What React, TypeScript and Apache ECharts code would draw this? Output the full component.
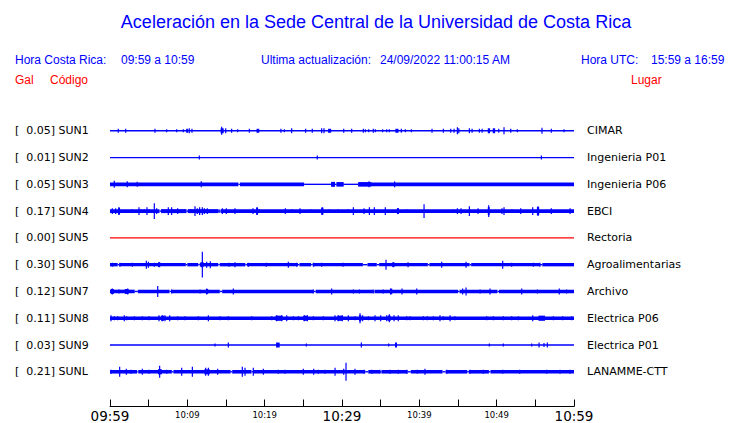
import React, { useEffect, useRef } from "react";
import * as echarts from "echarts";

// ---------- text content ----------
const titleText = "Aceleración en la Sede Central de la Universidad de Costa Rica";
const headerLabels = ["Hora Costa Rica:", "09:59 a 10:59", "Ultima actualización:", "24/09/2022 11:00:15 AM", "Hora UTC:", "15:59 a 16:59"];
const columnLabels = ["Gal", "Código", "Lugar"];

// ---------- stations ----------
const codes = ["SUN1", "SUN2", "SUN3", "SUN4", "SUN5", "SUN6", "SUN7", "SUN8", "SUN9", "SUNL"];
const galValues = ["0.05", "0.01", "0.05", "0.17", "0.00", "0.30", "0.12", "0.11", "0.03", "0.21"];
const places = ["CIMAR", "Ingenieria P01", "Ingenieria P06", "EBCI", "Rectoria", "Agroalimentarias", "Archivo", "Electrica P06", "Electrica P01", "LANAMME-CTT"];

// x axis (minutes after 09:59)
const tickLabels = ["09:59", "10:09", "10:19", "10:29", "10:39", "10:49", "10:59"];
const majorTicks = ["09:59", "10:29", "10:59"];

// background noise half-amplitude per station
const noiseLevel = [0.8, 0.6, 1.9, 2.0, 0.6, 1.7, 1.8, 1.8, 0.7, 1.8];
const quietLevel = 0.7;

// quiet stretches [startMin, endMin]
const sun1Quiet: number[][] = [];
const sun2Quiet: number[][] = [];
const sun3Quiet = [[16.6, 16.8], [25.1, 28.6], [29.1, 29.3], [30.2, 32.1]];
const sun4Quiet = [[6.4, 6.6], [9.9, 10.1], [14.0, 14.3]];
const sun5Quiet: number[][] = [];
const sun6Quiet = [[1.0, 1.2], [9.8, 10.0], [11.4, 11.6], [14.0, 14.2], [17.5, 17.7], [24.3, 24.5], [26.0, 26.2], [32.7, 33.3], [34.5, 34.8], [41.1, 41.3], [46.5, 46.7], [55.6, 55.9]];
const sun7Quiet = [[3.2, 3.6], [7.7, 7.9], [14.2, 14.5], [26.3, 26.6], [34.0, 34.2], [45.0, 45.2], [50.1, 50.3]];
const sun8Quiet: number[][] = [];
const sun9Quiet: number[][] = [];
const sunLQuiet = [[3.5, 3.65], [8.0, 8.2], [15.6, 15.8], [18.3, 18.5], [33.0, 33.4], [34.9, 35.1], [38.5, 38.9], [43.0, 43.4], [46.2, 46.4], [49.0, 49.2]];

// bursts [startMin, endMin, halfAmplitude]
const sun1Bursts = [[9.85, 10.1, 2], [14.3, 14.7, 2.5], [18.95, 19.3, 2], [28.2, 28.6, 2], [36.9, 37.3, 2], [48.85, 49.15, 2.5], [49.5, 49.8, 2.5]];
const sun2Bursts: number[][] = [];
const sun3Bursts = [[28.6, 29.1, 2.5], [29.3, 30.2, 2.2], [32.1, 33.8, 2.2]];
const sun4Bursts = [[1.05, 1.3, 3.5], [18.9, 19.15, 3.5], [27.3, 27.6, 3.5], [37.1, 37.35, 3], [48.85, 49.1, 4], [55.2, 55.5, 4]];
const sun5Bursts: number[][] = [];
const sun6Bursts = [[6.2, 6.5, 2.5], [11.7, 12.1, 2.5], [36.5, 36.8, 2.3]];
const sun7Bursts = [[0.1, 0.5, 2.5], [1.9, 2.4, 2.5], [12.4, 12.7, 2.5], [36.2, 36.5, 2.8]];
const sun8Bursts = [[6.6, 7.0, 2.6], [21.4, 22.3, 2.6], [25.0, 25.6, 2.6], [29.4, 30.1, 2.6], [32.2, 32.5, 3], [35.9, 36.3, 2.6], [55.4, 56.25, 2.6]];
const sun9Bursts = [[21.47, 21.94, 2.5], [36.85, 37.11, 2.5]];
const sunLBursts = [[6.2, 6.7, 2.6], [12.2, 12.9, 2.5]];

// spikes [minute, halfAmplitude]
const sun1Spikes = [[1.07, 2], [2.03, 2], [5.82, 2], [7.33, 1.5], [8.62, 1.5], [9.48, 1.5], [10.25, 2.5], [10.6, 2], [14.44, 4], [14.96, 2.5], [15.73, 2], [16.51, 1.5], [18.02, 2], [22.1, 2], [22.54, 1.5], [23.49, 2.5], [25.3, 2], [26.16, 2], [27.37, 2.5], [27.67, 2.5], [30.22, 2], [31.25, 2], [32.76, 2], [33.02, 1.5], [33.45, 1.5], [34.05, 2], [34.31, 1.5], [35.26, 1.5], [35.78, 1.5], [36.12, 1.5], [37.67, 2], [38.19, 1.5], [38.97, 1.5], [41.64, 2], [43.11, 2], [44.06, 2], [44.49, 2], [44.92, 3.5], [45.1, 2.5], [46.47, 2.5], [46.82, 2], [47.76, 2], [48.12, 2], [50.27, 2], [50.95, 3.5], [51.82, 2], [52.67, 1.5], [55.86, 3], [57.07, 2], [58.71, 1.5]];
const sun2Spikes = [[11.55, 2], [26.8, 2], [55.78, 2]];
const sun3Spikes = [[0.55, 3.5], [2.23, 3], [3.52, 2.5], [11.8, 3], [33.5, 3], [36.8, 3]];
const sun4Spikes = [[0.3, 3], [0.73, 3], [1.16, 4], [2.89, 2], [3.75, 4], [4.01, 2], [4.44, 2], [4.78, 4], [5.04, 2], [5.73, 8], [6.03, 3], [6.76, 2], [7.54, 4], [7.97, 4], [8.75, 3], [9.61, 2], [10.13, 2], [10.47, 2], [10.99, 5], [11.29, 3], [11.59, 4], [11.94, 4], [12.2, 3], [12.58, 3], [14.1, 2], [14.53, 3], [15.04, 3], [16.16, 3], [18.49, 3], [19.01, 4], [19.27, 2], [22.67, 3], [23.49, 2], [24.57, 3], [25.95, 2], [27.45, 4], [28.36, 2], [29.52, 2], [30.82, 2], [31.47, 4], [32.85, 3], [33.54, 4], [34.18, 4], [35.6, 4], [37.24, 3], [38.37, 2], [40.61, 7], [44.4, 2], [44.92, 3], [45.39, 3], [46.47, 5], [47.59, 3], [48.97, 6], [50.69, 3], [50.95, 4], [51.99, 2], [53.11, 3], [54.66, 4], [55.35, 5], [57.07, 3], [59.49, 3]];
const sun5Spikes: number[][] = [];
const sun6Spikes = [[0.3, 2], [1.29, 2], [2.89, 2], [4.7, 4], [4.96, 3], [5.73, 2], [11.94, 13], [12.5, 3], [12.97, 3.5], [15.39, 2], [16.16, 2.5], [17.89, 2], [20.21, 2], [23.06, 3], [24.14, 2], [26.34, 2], [27.37, 2], [30.13, 2], [35.69, 5], [36.64, 2.5], [38.54, 2.5], [42.89, 3], [46.04, 3], [50.78, 4], [51.94, 2], [54.74, 2], [55.6, 2]];
const sun7Spikes = [[0.3, 3], [1.16, 2], [2.29, 3], [6.17, 5.5], [7.97, 2], [11.64, 2], [12.5, 3], [15.95, 3], [26.29, 2], [28.66, 3], [31.47, 2], [32.24, 2], [34.05, 2], [35.34, 2], [36.29, 3], [37.76, 3], [39.66, 3], [45.6, 3], [46.04, 4], [47.85, 2], [49.14, 3], [53.24, 3], [55.26, 2], [58.1, 3], [59.05, 2]];
const sun8Spikes = [[0.13, 3], [0.56, 2], [0.99, 2], [1.85, 3], [2.16, 2], [3.15, 2], [4.18, 2], [5.04, 2], [6.34, 3], [6.76, 3], [7.11, 3], [7.72, 3], [8.75, 2], [9.7, 2], [11.42, 2], [12.72, 3], [14.22, 2], [15.3, 2], [18.32, 2], [20.91, 2], [21.55, 3], [22.2, 3], [22.85, 3], [23.71, 2], [24.35, 2], [25.13, 3], [25.52, 3], [26.29, 2], [27.58, 2], [29.1, 3], [29.52, 3], [30.04, 3], [30.82, 3], [31.68, 2], [32.33, 5], [32.67, 3], [33.41, 2], [34.27, 3], [35.0, 3], [35.78, 3], [36.12, 4], [36.73, 3], [37.28, 3], [38.37, 2], [38.79, 2], [40.52, 2], [41.03, 2], [41.81, 2], [42.67, 3], [43.1, 2], [43.97, 3], [44.61, 2], [48.71, 2], [49.57, 2], [50.86, 2], [51.94, 2], [52.8, 2], [54.66, 3], [57.33, 2], [58.54, 2], [59.7, 2]];
const sun9Spikes = [[13.58, 1.5], [15.3, 2.5], [25.39, 1.5], [32.5, 2.5], [36.03, 1.5], [49.05, 1.5], [50.86, 1.5], [54.53, 1.5], [55.48, 2.5], [56.12, 2], [56.55, 2.5]];
const sunLSpikes = [[0.13, 2], [1.25, 5], [2.11, 3], [2.72, 2], [4.18, 3], [5.04, 2], [6.42, 6], [7.33, 2], [9.27, 4], [10.65, 5], [12.37, 4], [12.72, 4], [13.92, 3], [17.11, 5], [17.46, 4], [18.53, 4], [19.83, 3], [21.77, 2], [22.63, 2], [25.0, 3], [26.34, 3], [26.94, 2], [27.8, 2], [29.1, 4], [30.22, 3], [30.52, 9], [31.68, 3], [32.85, 2], [33.84, 2], [34.91, 2], [36.21, 2], [37.28, 2], [38.37, 2], [39.74, 2], [40.73, 3], [43.54, 2], [46.55, 2], [48.27, 2], [50.78, 2], [52.98, 2], [56.47, 2], [58.19, 2], [59.48, 2]];

const quietByStation = [sun1Quiet, sun2Quiet, sun3Quiet, sun4Quiet, sun5Quiet, sun6Quiet, sun7Quiet, sun8Quiet, sun9Quiet, sunLQuiet];
const burstsByStation = [sun1Bursts, sun2Bursts, sun3Bursts, sun4Bursts, sun5Bursts, sun6Bursts, sun7Bursts, sun8Bursts, sun9Bursts, sunLBursts];
const spikesByStation = [sun1Spikes, sun2Spikes, sun3Spikes, sun4Spikes, sun5Spikes, sun6Spikes, sun7Spikes, sun8Spikes, sun9Spikes, sunLSpikes];

const BLUE = "#0000ff";
const RED = "#ff0000";
const SPACING = 27;
const T_END = 60;

function buildSegments(level: number, quiet: number[][]): number[][] {
  const out: number[][] = [];
  let cur = 0;
  const sorted = [...quiet].sort((a, b) => a[0] - b[0]);
  for (const [a, b] of sorted) {
    if (a > cur) out.push([cur, a, level]);
    out.push([a, b, quietLevel]);
    cur = b;
  }
  if (cur < T_END) out.push([cur, T_END, level]);
  return out;
}

export default function App() {
  const ref = useRef<HTMLDivElement>(null);
  useEffect(() => {
    document.body.style.margin = "0";
    if (!ref.current) return;
    const chart = echarts.init(ref.current, null, { renderer: "svg" });

    const series: any[] = codes.map((code, i) => {
      const yc = (i + 1) * SPACING;
      const items: number[][] = [];
      buildSegments(noiseLevel[i], quietByStation[i]).forEach((s) => items.push([s[0], s[1], yc, s[2]]));
      burstsByStation[i].forEach((s) => items.push([s[0], s[1], yc, s[2]]));
      spikesByStation[i].forEach((s) => items.push([s[0], s[0], yc, s[1]]));
      const color = galValues[i] === "0.00" ? RED : BLUE;
      return {
        type: "custom",
        name: code,
        coordinateSystem: "cartesian2d",
        encode: { x: [0, 1], y: 2 },
        data: items,
        silent: true,
        renderItem: (params: any, api: any) => {
          const m0 = api.value(0);
          const m1 = api.value(1);
          const y = api.value(2);
          const h = api.value(3);
          const p0 = api.coord([m0, y]);
          const p1 = api.coord([m1, y]);
          const hh = Math.abs(api.size([0, h])[1]);
          let w = p1[0] - p0[0];
          let x = p0[0];
          if (w < 1.2) {
            x = p0[0] - 0.6;
            w = 1.2;
          }
          return {
            type: "rect",
            shape: { x, y: p0[1] - hh, width: w, height: hh * 2 },
            style: { fill: color },
          };
        },
      };
    });

    const headerFont = '12px "Liberation Sans", Arial, sans-serif';
    const headerX = [15, 121, 261, 380, 581, 651];
    const colX = [15, 50, 631];

    const option: any = {
      animation: false,
      backgroundColor: "#ffffff",
      grid: { left: 110, right: 166, top: 104, height: 305, containLabel: false },
      xAxis: {
        type: "value",
        min: 0,
        max: T_END,
        interval: 5,
        axisLine: { show: true, onZero: false, lineStyle: { color: "#000", width: 1 } },
        axisTick: { show: true, inside: true, length: 7, lineStyle: { color: "#000", width: 1 } },
        splitLine: { show: false },
        axisLabel: {
          margin: 2,
          color: "#000",
          fontFamily: "DejaVu Sans",
          formatter: (v: number) => {
            if (v % 10 !== 0) return "";
            const lab = tickLabels[v / 10];
            if (!lab) return "";
            return majorTicks.includes(lab) ? `{big|${lab}}` : `{small|${lab}}`;
          },
          rich: {
            big: { fontSize: 13.5, fontFamily: "DejaVu Sans", color: "#000", lineHeight: 15 },
            small: { fontSize: 8.5, fontFamily: "DejaVu Sans", color: "#000", lineHeight: 12 },
          },
        },
      },
      yAxis: [
        {
          type: "value",
          min: 0,
          max: 305,
          interval: SPACING,
          inverse: true,
          axisLine: { show: false },
          axisTick: { show: false },
          splitLine: { show: false },
          axisLabel: {
            align: "left",
            margin: 95,
            fontFamily: "DejaVu Sans",
            fontSize: 11,
            color: "#000",
            formatter: (v: number) => {
              const i = Math.round(v / SPACING) - 1;
              if (i < 0 || i >= codes.length || Math.abs(v - (i + 1) * SPACING) > 0.01) return "";
              return `[  ${galValues[i]}] ${codes[i]}`;
            },
          },
        },
        {
          type: "value",
          position: "right",
          min: 0,
          max: 305,
          interval: SPACING,
          inverse: true,
          axisLine: { show: false },
          axisTick: { show: false },
          splitLine: { show: false },
          axisLabel: {
            margin: 13,
            fontFamily: "DejaVu Sans",
            fontSize: 11,
            color: "#000",
            formatter: (v: number) => {
              const i = Math.round(v / SPACING) - 1;
              if (i < 0 || i >= places.length || Math.abs(v - (i + 1) * SPACING) > 0.01) return "";
              return places[i];
            },
          },
        },
      ],
      graphic: [
        {
          type: "text",
          x: 376,
          y: 22,
          style: { text: titleText, fill: BLUE, font: '18px "Liberation Sans", Arial, sans-serif', align: "center", verticalAlign: "middle" },
        },
        ...headerLabels.map((t, k) => ({
          type: "text",
          x: headerX[k],
          y: 60,
          style: { text: t, fill: BLUE, font: headerFont, align: "left", verticalAlign: "middle" },
        })),
        ...columnLabels.map((t, k) => ({
          type: "text",
          x: colX[k],
          y: 80,
          style: { text: t, fill: RED, font: headerFont, align: "left", verticalAlign: "middle" },
        })),
      ],
      series,
    };
    chart.setOption(option);
    return () => chart.dispose();
  }, []);
  return <div ref={ref} style={{ width: 740, height: 423 }} />;
}
